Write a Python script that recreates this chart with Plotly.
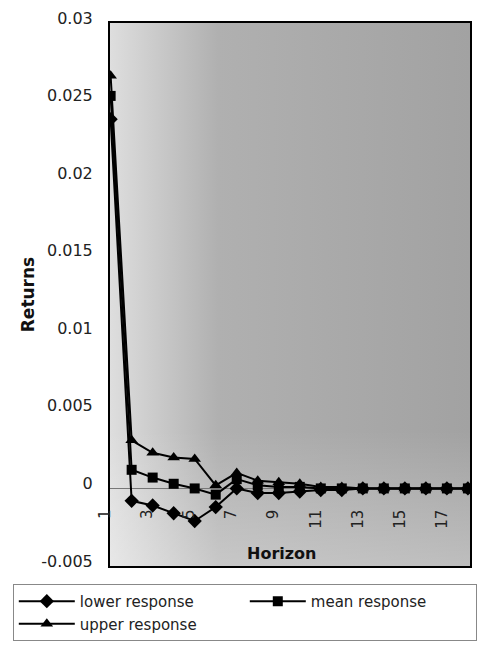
import base64
import plotly.graph_objects as go

# Impulse responses of returns over an 18-step horizon
horizon = list(range(1, 19))
lower_response = [0.0238, -0.0008, -0.0011, -0.0016, -0.0021, -0.0012, 0.0000, -0.0003, -0.0003,
                  -0.0002, -0.0001, -0.0001, 0.0, 0.0, 0.0, 0.0, 0.0, 0.0]
mean_response = [0.0253, 0.0012, 0.0007, 0.0003, 0.0000, -0.0004, 0.0006, 0.0002, 0.0001,
                 0.0001, 0.0000, 0.0, 0.0, 0.0, 0.0, 0.0, 0.0, 0.0]
upper_response = [0.0266, 0.0031, 0.0023, 0.0020, 0.0019, 0.0002, 0.0010, 0.0005, 0.0004,
                  0.0003, 0.0001, 0.0001, 0.0, 0.0, 0.0, 0.0, 0.0, 0.0]
x_tick_labels = ["1", "3", "5", "7", "9", "11", "13", "15", "17"]
y_tick_values = [-0.005, 0, 0.005, 0.01, 0.015, 0.02, 0.025, 0.03]
y_tick_labels = ["-0.005", "0", "0.005", "0.01", "0.015", "0.02", "0.025", "0.03"]

FONT = "DejaVu Sans"

# Grey gradient fill for the plotting area
svg = """<svg xmlns='http://www.w3.org/2000/svg' width='362' height='543' preserveAspectRatio='none'>
<defs>
<linearGradient id='h' x1='0' y1='0' x2='1' y2='0'>
<stop offset='0' stop-color='#dedede'/>
<stop offset='0.3' stop-color='#b0b0b0'/>
<stop offset='1' stop-color='#a2a2a2'/>
</linearGradient>
<linearGradient id='v' x1='0' y1='0' x2='0' y2='1'>
<stop offset='0' stop-color='#ffffff' stop-opacity='0'/>
<stop offset='0.75' stop-color='#ffffff' stop-opacity='0'/>
<stop offset='1' stop-color='#ffffff' stop-opacity='0.3'/>
</linearGradient>
</defs>
<rect width='362' height='543' fill='url(#h)'/>
<rect width='362' height='543' fill='url(#v)'/>
</svg>"""
bg_src = "data:image/svg+xml;base64," + base64.b64encode(svg.encode()).decode()

fig = go.Figure()
series = [
    ("lower response", lower_response, "diamond", 11),
    ("mean response", mean_response, "square", 10),
    ("upper response", upper_response, "triangle-up", 11),
]
for name, vals, sym, size in series:
    fig.add_trace(go.Scatter(
        x=horizon, y=vals, name=name, mode="lines+markers",
        line=dict(color="black", width=2),
        marker=dict(symbol=sym, size=size, color="black"),
    ))

# Category labels sit just under the zero line
for lab in x_tick_labels:
    fig.add_annotation(
        x=int(lab), y=0, xref="x", yref="y", text=lab, showarrow=False,
        textangle=-90, xanchor="center", yanchor="top", yshift=-19, xshift=-5,
        font=dict(family=FONT, size=15, color="#222222"),
    )

fig.add_annotation(
    x=0.475, y=0, xref="paper", yref="paper", text="<b>Horizon</b>", showarrow=False,
    xanchor="center", yanchor="bottom", yshift=1,
    font=dict(family=FONT, size=16, color="#111111"),
)

fig.add_layout_image(dict(
    source=bg_src, xref="x domain", yref="y domain", x=0, y=1, sizex=1, sizey=1,
    xanchor="left", yanchor="top", sizing="stretch", layer="below",
))

fig.update_layout(
    width=477, height=657,
    margin=dict(l=110, r=5, t=23, b=91),
    paper_bgcolor="white",
    plot_bgcolor="#b0b0b0",
    font=dict(family=FONT, size=16, color="#222222"),
    showlegend=True,
    legend=dict(
        orientation="h", x=-0.27, y=-0.033, xanchor="left", yanchor="top",
        entrywidth=160, itemwidth=56, bgcolor="white",
        bordercolor="#888888", borderwidth=1,
        font=dict(family=FONT, size=15, color="#222222"),
        tracegroupgap=0,
    ),
    xaxis=dict(
        range=[0.97, 18.1], showgrid=False, zeroline=False, showticklabels=False,
        ticks="", showline=True, linecolor="black", linewidth=2, mirror=True,
    ),
    yaxis=dict(
        range=[-0.005, 0.03], tickvals=y_tick_values, ticktext=y_tick_labels,
        showgrid=False, zeroline=True, zerolinecolor="#777777", zerolinewidth=1,
        showline=True, linecolor="black", linewidth=2, mirror=True,
        ticks="", ticklabelstandoff=12, ticklabelshift=-5,
        tickfont=dict(family=FONT, size=16, color="#222222"),
        title=dict(text="<b>Returns</b>", standoff=2,
                   font=dict(family=FONT, size=17, color="#111111")),
    ),
)

fig.write_html("out.html")
